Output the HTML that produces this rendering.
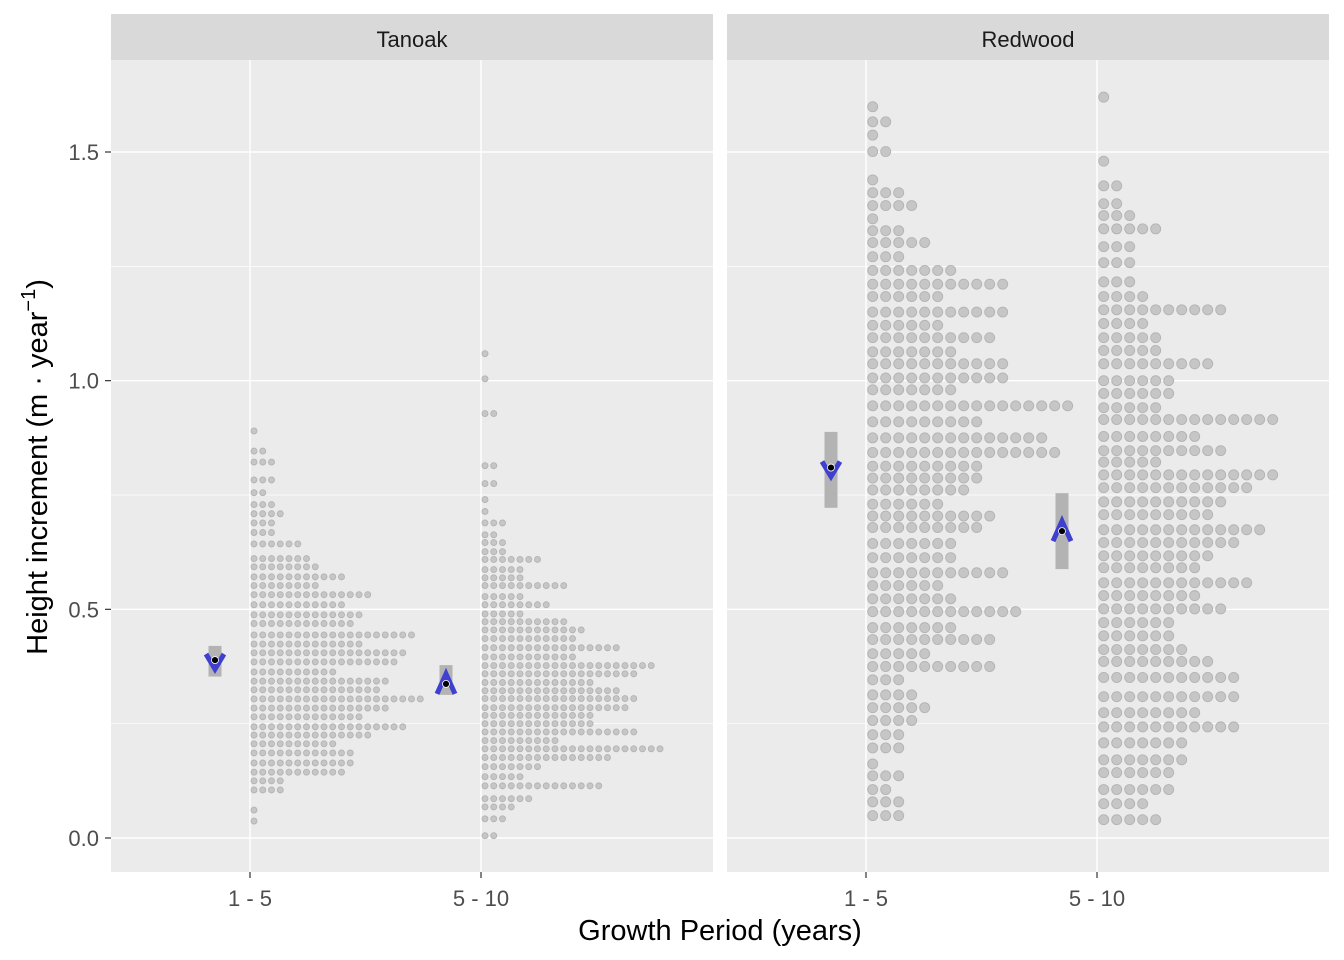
<!DOCTYPE html>
<html><head><meta charset="utf-8"><style>
body{margin:0;background:#fff;}
svg{display:block;font-family:"Liberation Sans",Arial,sans-serif;}
</style></head><body>
<svg id="chart" width="1344" height="960"></svg>
<script>
const panels = ["Tanoak", "Redwood"];
const periods = ["1 - 5", "5 - 10"];
const yTicks = [0.0, 0.5, 1.0, 1.5];
const yTickLabels = ["0.0", "0.5", "1.0", "1.5"];
const tan15Vals = [0.890,0.846,0.822,0.783,0.755,0.729,0.709,0.689,0.668,0.643,0.611,0.593,0.571,0.552,0.532,0.510,0.488,0.469,0.444,0.424,0.405,0.385,0.363,0.343,0.324,0.304,0.284,0.265,0.243,0.225,0.206,0.186,0.164,0.144,0.125,0.105,0.061,0.037];
const tan15Counts = [1,2,3,3,2,3,4,3,3,6,7,8,11,8,14,11,13,12,19,13,18,17,10,16,15,20,16,13,18,14,10,12,12,11,4,4,1,1];
const tan510Vals = [1.059,1.004,0.928,0.814,0.775,0.740,0.714,0.689,0.663,0.646,0.626,0.609,0.587,0.569,0.552,0.528,0.510,0.490,0.473,0.455,0.436,0.416,0.396,0.377,0.359,0.340,0.322,0.305,0.285,0.268,0.250,0.232,0.213,0.195,0.176,0.156,0.134,0.114,0.086,0.068,0.042,0.005];
const tan510Counts = [1,1,2,2,2,1,1,3,2,3,3,7,5,5,10,5,8,5,10,12,11,16,11,20,18,13,16,18,17,13,13,18,9,21,15,7,5,14,6,4,3,2];
const red15Vals = [1.599,1.566,1.537,1.501,1.439,1.411,1.383,1.354,1.328,1.302,1.271,1.241,1.211,1.184,1.150,1.121,1.094,1.063,1.037,1.006,0.980,0.945,0.910,0.875,0.843,0.813,0.787,0.761,0.730,0.704,0.679,0.644,0.613,0.580,0.552,0.523,0.495,0.460,0.434,0.403,0.375,0.346,0.313,0.285,0.257,0.226,0.197,0.162,0.136,0.106,0.079,0.049];
const red15Counts = [1,2,1,2,1,3,4,1,3,5,3,7,11,6,11,6,10,7,11,11,7,16,9,14,15,9,9,8,6,10,9,7,7,11,6,7,12,7,10,5,10,3,4,5,4,3,3,1,3,2,3,3];
const red510Vals = [1.620,1.480,1.426,1.387,1.361,1.332,1.293,1.258,1.216,1.184,1.155,1.125,1.094,1.066,1.037,1.000,0.972,0.941,0.915,0.878,0.847,0.822,0.794,0.766,0.735,0.707,0.674,0.646,0.617,0.591,0.558,0.530,0.501,0.471,0.442,0.412,0.386,0.351,0.309,0.274,0.243,0.208,0.171,0.143,0.106,0.075,0.040];
const red510Counts = [1,1,2,2,3,5,3,3,3,4,10,4,5,5,9,6,6,5,14,8,10,5,14,12,10,9,13,11,9,8,12,8,10,6,6,7,9,11,11,8,11,7,7,6,6,4,5];
const meanVals = [[0.389,0.337],[0.810,0.671]];
const lowVals = [[0.353,0.313],[0.722,0.588]];
const highVals = [[0.420,0.378],[0.888,0.754]];
const chevronDir = [[1,-1],[1,-1]];

const NS="http://www.w3.org/2000/svg";
const svg=document.getElementById('chart');
function mk(tag,attrs,parent){const e=document.createElementNS(NS,tag);for(const k in attrs)e.setAttribute(k,attrs[k]);(parent||svg).appendChild(e);return e;}
const panelX=[111,727], panelW=602, panelTop=60, panelBottom=872;
function yS(v){return 838 - v*457.33;}
function xS(p,c){return panelX[p] + (c===0?139:370);}

const dotData=[[[tan15Vals,tan15Counts],[tan510Vals,tan510Counts]],[[red15Vals,red15Counts],[red510Vals,red510Counts]]];
const dotR=[3,5], dotStep=[8.75,13], dotOff=[4,6.7];

for(let p=0;p<2;p++){
  const g=mk('g',{});
  
  
  const bg=mk('rect',{x:panelX[p],y:panelTop,width:panelW,height:panelBottom-panelTop,fill:'#ebebeb'},g);
  
  
  [0.25,0.75,1.25].forEach(v=>{mk('line',{x1:panelX[p],x2:panelX[p]+panelW,y1:yS(v),y2:yS(v),stroke:'#fff','stroke-width':0.7},g);});
  yTicks.forEach(v=>{const l=mk('line',{x1:panelX[p],x2:panelX[p]+panelW,y1:yS(v),y2:yS(v),stroke:'#fff','stroke-width':1.4},g);
    
    });
  for(let c=0;c<2;c++){mk('line',{x1:xS(p,c),x2:xS(p,c),y1:panelTop,y2:panelBottom,stroke:'#fff','stroke-width':1.4},g);}
  const strip=mk('rect',{x:panelX[p],y:14,width:panelW,height:46,fill:'#d9d9d9'},g);
  
  
  const st=mk('text',{x:panelX[p]+panelW/2,y:47,'text-anchor':'middle','font-size':'22',fill:'#1a1a1a'},g);
  st.textContent=panels[p];
  
  
  for(let c=0;c<2;c++){
    const [vals,cnts]=dotData[p][c];
    const dg=mk('g',{},g);
    
    
    vals.forEach((v,i)=>{for(let k=0;k<cnts[i];k++){
      mk('circle',{cx:xS(p,c)+dotOff[p]+k*dotStep[p],cy:yS(v),r:dotR[p],fill:'#c6c6c6',stroke:'#b3b3b3','stroke-width':0.9},dg);}});
    const sx=xS(p,c)-35;
    const bar=mk('rect',{x:sx-6.5,y:yS(highVals[p][c]),width:13,height:yS(lowVals[p][c])-yS(highVals[p][c]),fill:'#b3b3b3'},g);
    
    
    const my=yS(meanVals[p][c]), d=chevronDir[p][c];
    const pts = d===1 ? `${sx-9},${my-6} ${sx},${my+9} ${sx+9},${my-6}` : `${sx-9},${my+10} ${sx},${my-10} ${sx+9},${my+10}`;
    const ch=mk('polyline',{points:pts,fill:'none',stroke:'#4040d0','stroke-width':5},g);
    
    
    const md=mk('circle',{cx:sx,cy:my,r:3.5,fill:'#000',stroke:'#fff','stroke-width':0.8},g);
    
    
    mk('line',{x1:xS(p,c),x2:xS(p,c),y1:872,y2:878,stroke:'#333','stroke-width':1.2});
    const xl=mk('text',{x:xS(p,c),y:906,'text-anchor':'middle','font-size':'22',fill:'#4d4d4d'});
    xl.textContent=periods[c];
    
    
  }
}
yTicks.forEach((v,i)=>{
  mk('line',{x1:105,x2:111,y1:yS(v),y2:yS(v),stroke:'#333','stroke-width':1.2});
  const t=mk('text',{x:99,y:yS(v)+8,'text-anchor':'end','font-size':'22',fill:'#4d4d4d'});
  t.textContent=yTickLabels[i];
  
  
});
const xt=mk('text',{x:720,y:940,'text-anchor':'middle','font-size':'29',fill:'#000'});
xt.textContent='Growth Period (years)';


const yt=mk('text',{x:0,y:0,'text-anchor':'middle','font-size':'29',fill:'#000',transform:'translate(47,467) rotate(-90)'});
yt.innerHTML='Height increment (m · year<tspan dy="-12" font-size="20">−1</tspan><tspan dy="12">)</tspan>';


</script>
</body></html>
